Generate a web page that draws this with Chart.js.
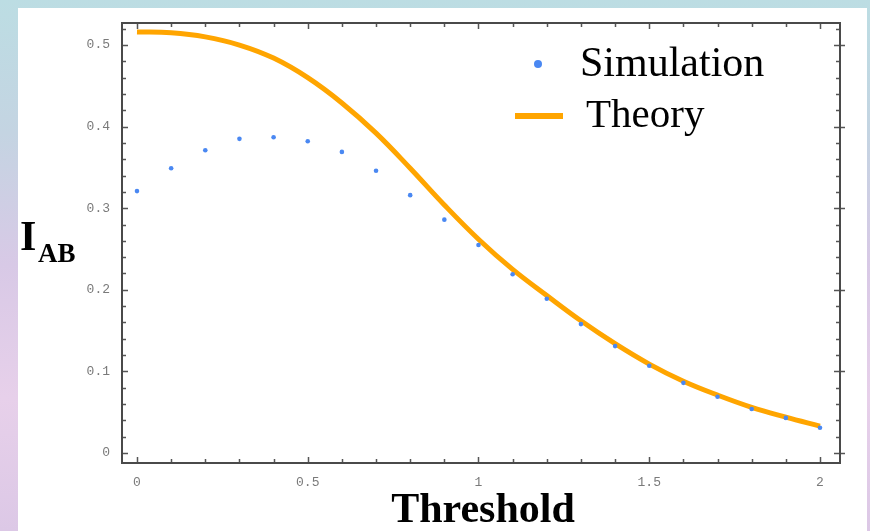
<!DOCTYPE html>
<html>
<head>
<meta charset="utf-8">
<script src="https://cdn.jsdelivr.net/npm/chart.js@4/dist/chart.umd.min.js"></script>
<style>
  body {
    margin: 0;
    width: 870px;
    height: 531px;
    overflow: hidden;
    position: relative;
    background: linear-gradient(180deg, #bcdde3 0%, #c4d4e2 25%, #d8c9e6 50%, #e7d0ea 75%, #dcc8e6 100%);
  }
  #panel {
    position: absolute;
    left: 18px; top: 8px;
    width: 849px; height: 523px;
    background: #fff;
  }
  #chart {
    position: absolute;
    left: 0; top: 0;
  }
  .lbl {
    position: absolute;
    font-family: "Liberation Serif", "Times New Roman", serif;
    color: #000;
    white-space: nowrap;
  }
</style>
</head>
<body>
<div id="panel"></div>
<canvas id="chart" width="870" height="531"></canvas>

<div class="lbl" style="left:20px; top:215px; font-size:42px; line-height:42px; font-weight:bold;">I</div>
<div class="lbl" style="left:38px; top:240px; font-size:27px; line-height:27px; font-weight:bold;">AB</div>
<div class="lbl" style="left:383px; width:200px; text-align:center; top:487px; font-size:42px; line-height:42px; font-weight:bold;">Threshold</div>

<div style="position:absolute; left:534px; top:60px; width:8px; height:8px; border-radius:50%; background:#4a88f2;"></div>
<div class="lbl" style="left:580px; top:41px; font-size:42px; line-height:42px;">Simulation</div>
<div style="position:absolute; left:515px; top:113px; width:48px; height:6px; background:#ffa500;"></div>
<div class="lbl" style="left:586px; top:93px; font-size:41px; line-height:41px;">Theory</div>

<script>
// data
var threshold = [0, 0.1, 0.2, 0.3, 0.4, 0.5, 0.6, 0.7, 0.8, 0.9, 1.0,
                 1.1, 1.2, 1.3, 1.4, 1.5, 1.6, 1.7, 1.8, 1.9, 2.0]
var simulation = [0.321, 0.349, 0.371, 0.385, 0.387, 0.382, 0.369, 0.346, 0.316, 0.286, 0.255,
                  0.219, 0.189, 0.158, 0.131, 0.107, 0.086, 0.069, 0.054, 0.043, 0.031]
var theory = [0.516, 0.515, 0.510, 0.500, 0.484, 0.460, 0.429, 0.392, 0.349, 0.304, 0.262,
              0.225, 0.193, 0.162, 0.134, 0.109, 0.088, 0.071, 0.056, 0.044, 0.033]

// tick labels
var xMajor = [0, 0.5, 1, 1.5, 2]
var xLabels = ["0", "0.5", "1", "1.5", "2"]
var yMajor = [0, 0.1, 0.2, 0.3, 0.4, 0.5]
var yLabels = ["0", "0.1", "0.2", "0.3", "0.4", "0.5"]

// minor tick positions
var xMinor = []
for (var i = 0; i <= 20; i++) xMinor.push(+(i * 0.1).toFixed(2))
var yMinor = []
for (var j = 0; j <= 26; j++) yMinor.push(+(j * 0.02).toFixed(2))

function pts(ys) {
    return threshold.map(function (x, k) { return { x: x, y: ys[k] } })
}

function labelFor(v, majors, labels) {
    for (var k = 0; k < majors.length; k++) {
        if (Math.abs(majors[k] - v) < 1e-6) return labels[k]
    }
    return ""
}

// Mathematica-like frame with inward ticks on all four sides
var framePlugin = {
    id: "frame",
    afterDraw: function (chart) {
        var ctx = chart.ctx
        var a = chart.chartArea
        var xs = chart.scales.x, ys = chart.scales.y
        ctx.save()
        ctx.strokeStyle = "#555"
        ctx.lineWidth = 1.5
        xs.ticks.forEach(function (t) {
            var px = Math.round(xs.getPixelForValue(t.value)) + 0.5
            var len = t.label ? 6 : 4
            ctx.beginPath()
            ctx.moveTo(px, a.bottom); ctx.lineTo(px, a.bottom - len)
            ctx.moveTo(px, a.top); ctx.lineTo(px, a.top + len)
            ctx.stroke()
        })
        ys.ticks.forEach(function (t) {
            var py = Math.round(ys.getPixelForValue(t.value)) + 0.5
            var len = t.label ? 6 : 4
            ctx.beginPath()
            ctx.moveTo(a.left, py); ctx.lineTo(a.left + len, py)
            ctx.moveTo(a.right, py); ctx.lineTo(a.right - len, py)
            if (t.label) { ctx.moveTo(a.right, py); ctx.lineTo(a.right + 5, py) }
            ctx.stroke()
        })
        ctx.lineWidth = 2
        ctx.strokeStyle = "#4a4a4a"
        ctx.strokeRect(a.left, a.top, a.right - a.left, a.bottom - a.top)
        ctx.restore()
    }
}

new Chart(document.getElementById("chart"), {
    type: "scatter",
    data: {
        datasets: [{
            label: "Simulation",
            data: pts(simulation),
            showLine: false,
            pointRadius: 2.3,
            pointBorderWidth: 0,
            pointBackgroundColor: "#4a88f2",
            order: 0
        }, {
            label: "Theory",
            data: pts(theory),
            showLine: true,
            borderColor: "#ffa500",
            borderWidth: 5,
            borderJoinStyle: "round",
            pointRadius: 0,
            tension: 0.4,
            fill: false,
            order: 1
        }]
    },
    options: {
        responsive: false,
        animation: false,
        devicePixelRatio: 1,
        layout: { padding: { left: 0, top: 23, right: 30, bottom: 0 } },
        plugins: {
            legend: { display: false },
            tooltip: { enabled: false }
        },
        scales: {
            x: {
                type: "linear",
                min: -0.0439,
                max: 2.0586,
                grid: { display: false, drawTicks: false },
                border: { display: false },
                afterBuildTicks: function (s) {
                    s.ticks = xMinor.map(function (v) { return { value: v } })
                },
                afterFit: function (s) { s.height = 68 },
                ticks: {
                    autoSkip: false,
                    maxRotation: 0,
                    padding: 12,
                    color: "#7a7a7a",
                    font: { family: "Liberation Mono", size: 13 },
                    callback: function (v) { return labelFor(v, xMajor, xLabels) }
                }
            },
            y: {
                type: "linear",
                min: -0.01225,
                max: 0.527,
                grid: { display: false, drawTicks: false },
                border: { display: false },
                afterBuildTicks: function (s) {
                    s.ticks = yMinor.map(function (v) { return { value: v } })
                },
                afterFit: function (s) { s.width = 122 },
                ticks: {
                    autoSkip: false,
                    padding: 12,
                    color: "#7a7a7a",
                    font: { family: "Liberation Mono", size: 13 },
                    callback: function (v) { return labelFor(v, yMajor, yLabels) }
                }
            }
        }
    },
    plugins: [framePlugin]
});
</script>
</body>
</html>
